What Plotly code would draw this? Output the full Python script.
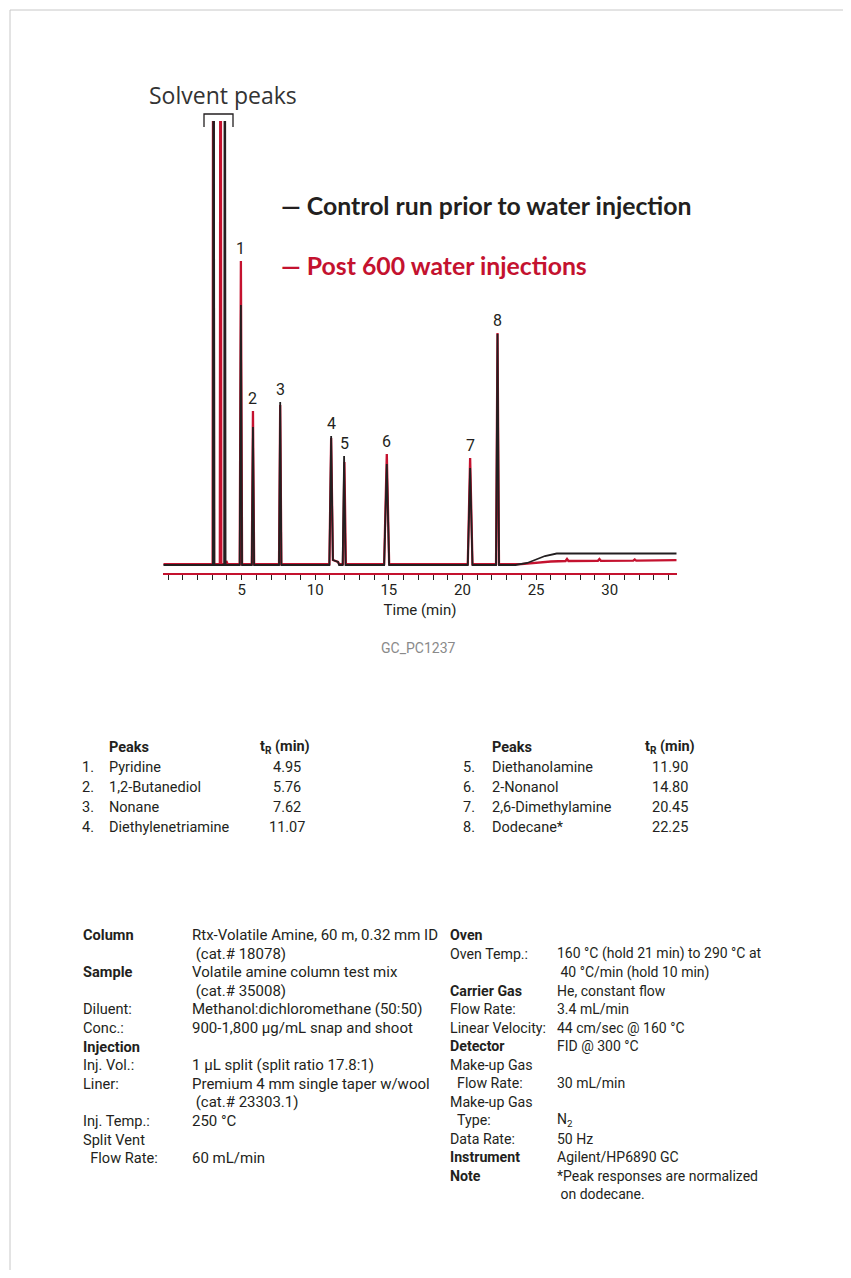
import plotly.graph_objects as go

# ---------------- data ----------------
# chromatogram traces (time in min, detector signal in arbitrary units above baseline)
black_t = [-0.32, 3.05, 3.10, 3.15, 3.81, 3.86, 3.91, 4.87, 4.95, 5.03, 5.69, 5.77, 5.85,
           7.54, 7.62, 7.70, 10.96, 11.08, 11.20, 11.55, 11.62, 11.86, 11.96, 12.06,
           14.68, 14.86, 15.02, 20.36, 20.52, 20.68, 22.28, 22.38, 22.48,
           23.6, 24.4, 24.9, 25.6, 26.4, 34.55]
black_s = [0, 0, 900, 0, 0, 900, 0, 0, 260, 0, 0, 138, 0,
           0, 163, 0, 0, 129, 5, 3, 0, 0, 109, 0,
           0, 101, 0, 0, 97, 0, 0, 231, 0,
           0, 2, 5, 9, 11.5, 11.5]

red_t = [-0.32, 3.03, 3.08, 3.13, 3.52, 3.57, 3.62, 3.90, 3.96, 4.05, 4.87, 4.95, 5.03,
         5.69, 5.77, 5.85, 7.54, 7.62, 7.70, 10.96, 11.08, 11.20, 11.55, 11.62,
         11.88, 11.98, 12.08, 14.68, 14.86, 15.02, 20.36, 20.52, 20.68,
         22.28, 22.38, 22.48, 24.0, 25.0, 26.0, 27.0, 27.1, 27.2,
         29.2, 29.3, 29.4, 31.6, 31.7, 31.8, 34.55]
red_s = [0.8, 0.8, 900, 0.8, 0.8, 900, 0.8, 0.8, 4, 0.8, 0.8, 304, 0.8,
         0.8, 154, 0.8, 0.8, 160, 0.8, 0.8, 127, 5, 3, 0.8,
         0.8, 103, 0.8, 0.8, 111, 0.8, 0.8, 107, 0.8,
         0.8, 232, 0.8, 0.8, 2.5, 3.5, 4, 6, 4,
         4.2, 6, 4.2, 4.4, 5.5, 4.4, 4.8]

peak_labels = ["1", "2", "3", "4", "5", "6", "7", "8"]
peak_label_t = [4.95, 5.77, 7.62, 11.08, 11.96, 14.86, 20.52, 22.38]
peak_label_s = [304, 154, 163, 129, 109, 111, 107, 232]

x_tick_vals = [5, 10, 15, 20, 25, 30]
x_tick_text = ["5", "10", "15", "20", "25", "30"]

series_names = ["Control run prior to water injection", "Post 600 water injections"]

peak_nums = ["1.", "2.", "3.", "4.", "5.", "6.", "7.", "8."]
peak_names = ["Pyridine", "1,2-Butanediol", "Nonane", "Diethylenetriamine",
              "Diethanolamine", "2-Nonanol", "2,6-Dimethylamine", "Dodecane*"]
peak_tr = ["4.95", "5.76", "7.62", "11.07", "11.90", "14.80", "20.45", "22.25"]

cond_left_labels = ["Column", "", "Sample", "", "Diluent:", "Conc.:", "Injection",
                    "Inj. Vol.:", "Liner:", "", "Inj. Temp.:", "Split Vent", "\u00a0\u00a0Flow Rate:"]
cond_left_values = ["Rtx-Volatile Amine, 60 m, 0.32 mm ID", "\u00a0(cat.# 18078)",
                    "Volatile amine column test mix", "\u00a0(cat.# 35008)",
                    "Methanol:dichloromethane (50:50)", "900-1,800 µg/mL snap and shoot", "",
                    "1 µL split (split ratio 17.8:1)", "Premium 4 mm single taper w/wool",
                    "\u00a0(cat.# 23303.1)", "250 °C", "", "60 mL/min"]
cond_left_bold = [True, False, True, False, False, False, True, False, False, False, False, False, False]

cond_right_labels = ["Oven", "Oven Temp.:", "", "Carrier Gas", "Flow Rate:", "Linear Velocity:",
                     "Detector", "Make-up Gas", "\u00a0\u00a0Flow Rate:", "Make-up Gas",
                     "\u00a0\u00a0Type:", "Data Rate:", "Instrument", "Note", ""]
cond_right_values = ["", "160 °C (hold 21 min) to 290 °C at", "\u00a040 °C/min (hold 10 min)",
                     "He, constant flow", "3.4 mL/min", "44 cm/sec @ 160 °C", "FID @ 300 °C",
                     "", "30 mL/min", "", "N<sub>2</sub>", "50 Hz", "Agilent/HP6890 GC",
                     "*Peak responses are normalized", "\u00a0on dodecane."]
cond_right_bold = [True, False, False, True, False, False, True, False, False, False,
                   False, False, True, True, False]

# ---------------- style ----------------
OFF = 8                     # page body margin of the html page
W, H = 835, 1262
RED = "#c4122f"
BLK = "#231f20"
TXT = "#231f20"
BODY_FONT = "Roboto"


def px(x):
    return (x - OFF) / W


def py(y):
    return 1 - (y - OFF) / H


fig = go.Figure()
fig.add_trace(go.Scatter(x=red_t, y=red_s, mode="lines", name=series_names[1],
                         line=dict(color=RED, width=2.3), hoverinfo="skip"))
fig.add_trace(go.Scatter(x=black_t, y=black_s, mode="lines", name=series_names[0],
                         line=dict(color=BLK, width=1.8), hoverinfo="skip"))

annotations = []
for lab, t, s in zip(peak_labels, peak_label_t, peak_label_s):
    annotations.append(dict(x=t, y=s, xref="x", yref="y", text=lab, showarrow=False,
                            yanchor="bottom", xanchor="center", yshift=1,
                            font=dict(family=BODY_FONT, size=16, color=TXT)))

# Solvent peaks label
annotations.append(dict(x=px(223), y=py(95), xref="paper", yref="paper", text="Solvent peaks",
                        showarrow=False, xanchor="center", yanchor="middle",
                        font=dict(family="Open Sans", size=23, color="#333333")))
# legend-like texts
annotations.append(dict(x=px(279), y=py(206), xref="paper", yref="paper",
                        text="<b>\u2014 " + series_names[0] + "</b>", showarrow=False,
                        xanchor="left", yanchor="middle",
                        font=dict(family="Lato", size=24.8, color=BLK)))
annotations.append(dict(x=px(279), y=py(266), xref="paper", yref="paper",
                        text="<b>\u2014 " + series_names[1] + "</b>", showarrow=False,
                        xanchor="left", yanchor="middle",
                        font=dict(family="Lato", size=24.8, color=RED)))
# figure id
annotations.append(dict(x=px(418), y=py(648), xref="paper", yref="paper", text="GC_PC1237",
                        showarrow=False, xanchor="center", yanchor="middle",
                        font=dict(family=BODY_FONT, size=14, color="#8a8a8a")))

# Peak tables
tab_font = dict(family=BODY_FONT, size=14.5, color=TXT)
for col in range(2):
    xnum = [96, 477][col]
    xname = [107, 490][col]
    xtr_head = [258, 643][col]
    xval = [287, 670][col]
    annotations.append(dict(x=px(xname), y=py(747), xref="paper", yref="paper",
                            text="<b>Peaks</b>", showarrow=False, xanchor="left",
                            yanchor="middle", font=tab_font))
    annotations.append(dict(x=px(xtr_head), y=py(747), xref="paper", yref="paper",
                            text="<b>t<sub>R</sub> (min)</b>", showarrow=False, xanchor="left",
                            yanchor="middle", font=tab_font))
    for r in range(4):
        i = col * 4 + r
        yy = py(767 + 20 * r)
        annotations.append(dict(x=px(xnum), y=yy, xref="paper", yref="paper", text=peak_nums[i],
                                showarrow=False, xanchor="right", yanchor="middle", font=tab_font))
        annotations.append(dict(x=px(xname), y=yy, xref="paper", yref="paper", text=peak_names[i],
                                showarrow=False, xanchor="left", yanchor="middle", font=tab_font))
        annotations.append(dict(x=px(xval), y=yy, xref="paper", yref="paper", text=peak_tr[i],
                                showarrow=False, xanchor="center", yanchor="middle", font=tab_font))

# Conditions
for labels, values, bolds, xl, xv, y0, dy, fl, fv in [
        (cond_left_labels, cond_left_values, cond_left_bold, 81, 190, 935, 18.6, 14.6, 15.0),
        (cond_right_labels, cond_right_values, cond_right_bold, 448, 555, 935, 18.5, 14.2, 14.0)]:
    for k, (lab, val, b) in enumerate(zip(labels, values, bolds)):
        yy = py(y0 + dy * k)
        if lab:
            annotations.append(dict(x=px(xl), y=yy, xref="paper", yref="paper",
                                    text=("<b>%s</b>" % lab) if b else lab, showarrow=False,
                                    xanchor="left", yanchor="middle",
                                    font=dict(family=BODY_FONT, size=fl, color=TXT)))
        if val:
            annotations.append(dict(x=px(xv), y=yy, xref="paper", yref="paper", text=val,
                                    showarrow=False, xanchor="left", yanchor="middle",
                                    font=dict(family=BODY_FONT, size=fv, color=TXT)))

shapes = [
    # page border (top and left)
    dict(type="line", xref="paper", yref="paper", x0=px(10), x1=1, y0=py(10), y1=py(10),
         line=dict(color="#c8c8c8", width=1)),
    dict(type="line", xref="paper", yref="paper", x0=px(10), x1=px(10), y0=py(10), y1=0,
         line=dict(color="#c8c8c8", width=1)),
    # solvent bracket
    dict(type="path", xref="paper", yref="paper",
         path="M %f,%f L %f,%f L %f,%f L %f,%f" % (px(204), py(127), px(204), py(114),
                                                  px(233), py(114), px(233), py(127)),
         line=dict(color=BLK, width=1.3)),
]

fig.update_layout(
    width=W, height=H,
    margin=dict(l=0, r=0, t=0, b=0),
    paper_bgcolor="white", plot_bgcolor="white",
    showlegend=False,
    annotations=annotations,
    shapes=shapes,
    xaxis=dict(domain=[px(163.3), px(676.7)], range=[-0.32, 34.55],
               showgrid=False, zeroline=False,
               showline=True, linecolor=RED, linewidth=2,
               ticks="outside", ticklen=5, tickwidth=1.2, tickcolor=BLK,
               ticklabelstandoff=-3,
               tickvals=x_tick_vals, ticktext=x_tick_text,
               minor=dict(dtick=1, tick0=0, ticks="outside", ticklen=5, tickwidth=1.2,
                          tickcolor=BLK, showgrid=False),
               tickfont=dict(family=BODY_FONT, size=15, color=TXT),
               title=dict(text="Time (min)", standoff=6,
                          font=dict(family=BODY_FONT, size=15, color=TXT))),
    yaxis=dict(domain=[py(573.3), py(121)], range=[-8.3, 444],
               visible=False, showgrid=False, zeroline=False),
)

fig.write_html("out.html")
